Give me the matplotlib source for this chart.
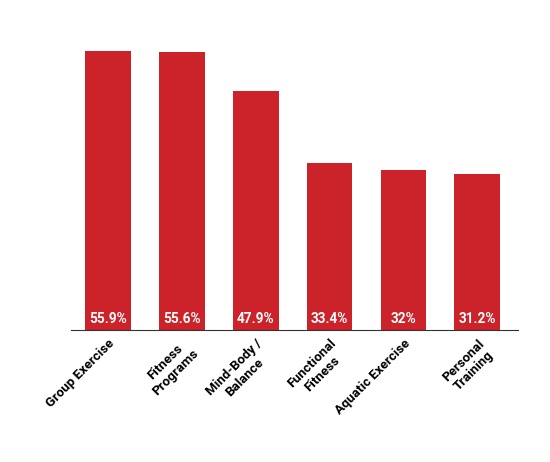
import matplotlib
matplotlib.use("Agg")
import matplotlib.pyplot as plt

categories = ["Group Exercise", "Fitness\nPrograms", "Mind-Body /\nBalance",
              "Functional\nFitness", "Aquatic Exercise", "Personal\nTraining"]
values = [55.9, 55.6, 47.9, 33.4, 32, 31.2]
value_labels = ["55.9%", "55.6%", "47.9%", "33.4%", "32%", "31.2%"]

plt.rcParams['font.family'] = ['Roboto', 'DejaVu Sans']

fig = plt.figure(figsize=(5.5, 4.62), dpi=100)
ax = fig.add_axes([71/550, 1-330/462, 447/550, 299.5/462])
x = range(len(values))
bars = ax.bar(x, values, width=0.62, color="#CC2229")
ax.set_xlim(-0.5, len(values) - 0.5 + 0.05)
ax.set_ylim(0, 60)

for xi, lab in zip(x, value_labels):
    ax.text(xi, 0.9, lab, ha='center', va='bottom', color='white',
            fontsize=9.8, fontweight='bold')

ax.set_xticks(list(x))
ax.set_xticklabels(categories, rotation=45, ha='right', rotation_mode='anchor',
                   fontsize=9.5, fontweight='bold', multialignment='center',
                   linespacing=1.15)
ax.tick_params(axis='x', length=0, pad=5)
ax.set_yticks([])
for s in ['top', 'right', 'left']:
    ax.spines[s].set_visible(False)
ax.spines['bottom'].set_color('#333333')
ax.spines['bottom'].set_linewidth(0.8)

fig.savefig("out.png", dpi=100)
